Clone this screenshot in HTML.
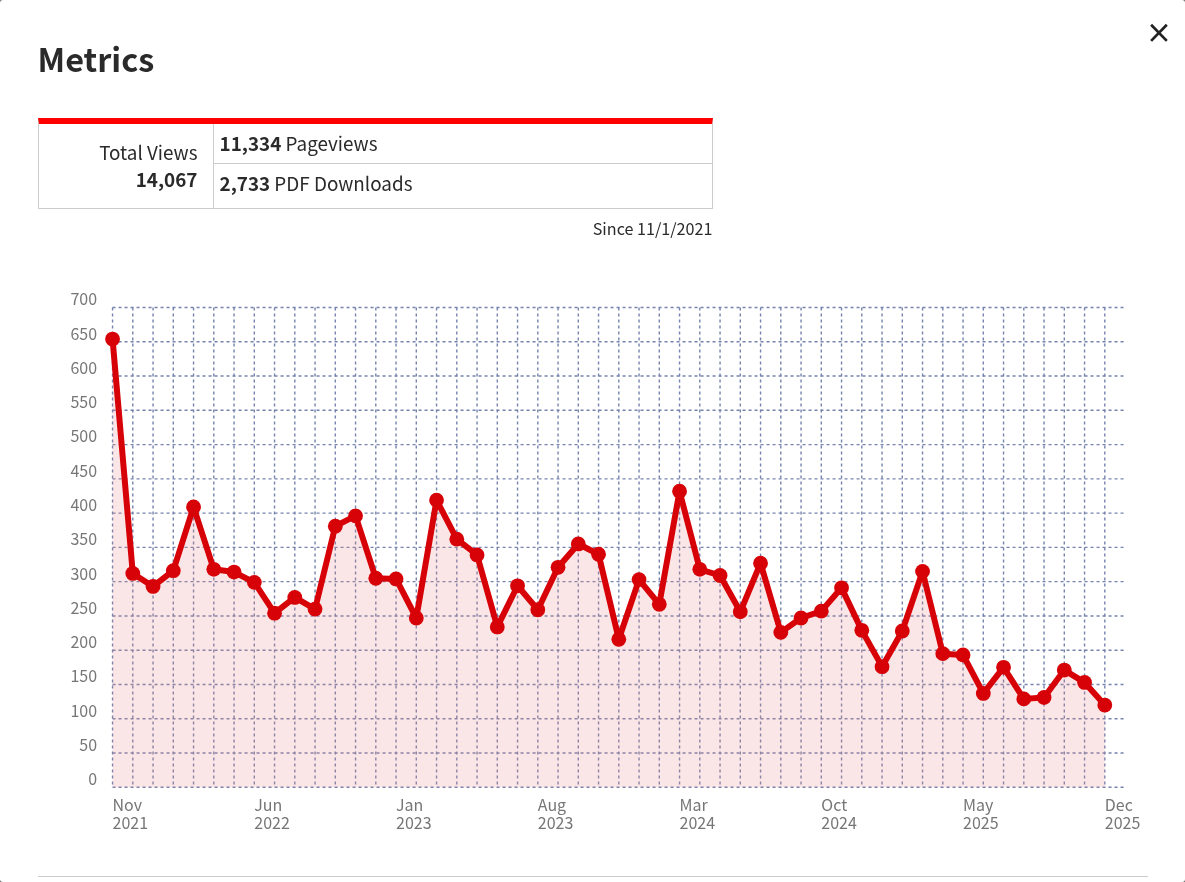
<!DOCTYPE html>
<html lang="en">
<head>
<meta charset="utf-8">
<title>Metrics</title>
<style>
html{background:#707070;}
html,body{margin:0;padding:0;}
body{width:1185px;height:882px;overflow:hidden;position:relative;font-family:"Noto Sans CJK SC","Noto Sans CJK JP","Liberation Sans",sans-serif;font-size:16px;color:#2a2a2a;}
.modal{position:absolute;left:0;top:0;width:1185px;height:882px;background:#fff;border-radius:3px;overflow:hidden;}
h1{position:absolute;left:37.5px;top:35px;margin:0;font-size:32.4px;line-height:46px;font-weight:bold;color:#2a2a2a;}
.close{position:absolute;left:1145px;top:19px;width:28px;height:28px;}
.tbl{position:absolute;left:38px;top:118px;width:673px;height:84px;border:1px solid #ccc;border-top:6px solid #f00;box-sizing:content-box;}
.tbl .l{position:absolute;left:0;top:0;width:174px;height:84px;border-right:1px solid #ccc;}
.tbl .l div{position:absolute;right:15.5px;white-space:nowrap;font-size:18.88px;line-height:27px;}
.tbl .r1,.tbl .r2{position:absolute;left:175px;width:498px;font-size:18.88px;white-space:nowrap;}
.tbl .r1{top:0;height:39px;border-bottom:1px solid #ccc;}
.tbl .r2{top:40px;height:44px;}
.tbl .r1 span,.tbl .r2 span{position:absolute;left:5.5px;line-height:27px;}
.since{position:absolute;right:472.5px;top:216px;font-size:16.16px;line-height:24px;white-space:nowrap;}
.chart{position:absolute;left:0;top:0;}
.chart text{font-family:"Noto Sans CJK SC","Noto Sans CJK JP","Liberation Sans",sans-serif;font-size:16px;fill:#767676;}
.hr{position:absolute;left:38px;top:876px;width:1110px;height:1px;background:#ccc;}
</style>
</head>
<body>
<div class="modal">
<h1>Metrics</h1>
<svg class="close" viewBox="0 0 28 28"><path d="M6.1 5.75 L21.8 21.85 M21.8 5.75 L6.1 21.85" stroke="#222" stroke-width="2.7" fill="none"/></svg>
<div class="tbl">
<div class="l"><div style="top:13.7px">Total Views</div><div style="top:40.7px"><b>14,067</b></div></div>
<div class="r1"><span style="top:5px"><b>11,334</b> Pageviews</span></div>
<div class="r2"><span style="top:5px"><b>2,733</b> PDF Downloads</span></div>
</div>
<div class="since">Since 11/1/2021</div>
<svg class="chart" width="1185" height="882" viewBox="0 0 1185 882">
<g stroke="#7684ad" stroke-width="1.4" stroke-dasharray="3 3" fill="none">
<line x1="112.55" y1="307.50" x2="112.55" y2="787.30"/>
<line x1="132.80" y1="307.50" x2="132.80" y2="787.30"/>
<line x1="153.05" y1="307.50" x2="153.05" y2="787.30"/>
<line x1="173.30" y1="307.50" x2="173.30" y2="787.30"/>
<line x1="193.55" y1="307.50" x2="193.55" y2="787.30"/>
<line x1="213.80" y1="307.50" x2="213.80" y2="787.30"/>
<line x1="234.05" y1="307.50" x2="234.05" y2="787.30"/>
<line x1="254.30" y1="307.50" x2="254.30" y2="787.30"/>
<line x1="274.55" y1="307.50" x2="274.55" y2="787.30"/>
<line x1="294.80" y1="307.50" x2="294.80" y2="787.30"/>
<line x1="315.05" y1="307.50" x2="315.05" y2="787.30"/>
<line x1="335.30" y1="307.50" x2="335.30" y2="787.30"/>
<line x1="355.55" y1="307.50" x2="355.55" y2="787.30"/>
<line x1="375.80" y1="307.50" x2="375.80" y2="787.30"/>
<line x1="396.05" y1="307.50" x2="396.05" y2="787.30"/>
<line x1="416.30" y1="307.50" x2="416.30" y2="787.30"/>
<line x1="436.55" y1="307.50" x2="436.55" y2="787.30"/>
<line x1="456.80" y1="307.50" x2="456.80" y2="787.30"/>
<line x1="477.05" y1="307.50" x2="477.05" y2="787.30"/>
<line x1="497.30" y1="307.50" x2="497.30" y2="787.30"/>
<line x1="517.55" y1="307.50" x2="517.55" y2="787.30"/>
<line x1="537.80" y1="307.50" x2="537.80" y2="787.30"/>
<line x1="558.05" y1="307.50" x2="558.05" y2="787.30"/>
<line x1="578.30" y1="307.50" x2="578.30" y2="787.30"/>
<line x1="598.55" y1="307.50" x2="598.55" y2="787.30"/>
<line x1="618.80" y1="307.50" x2="618.80" y2="787.30"/>
<line x1="639.05" y1="307.50" x2="639.05" y2="787.30"/>
<line x1="659.30" y1="307.50" x2="659.30" y2="787.30"/>
<line x1="679.55" y1="307.50" x2="679.55" y2="787.30"/>
<line x1="699.80" y1="307.50" x2="699.80" y2="787.30"/>
<line x1="720.05" y1="307.50" x2="720.05" y2="787.30"/>
<line x1="740.30" y1="307.50" x2="740.30" y2="787.30"/>
<line x1="760.55" y1="307.50" x2="760.55" y2="787.30"/>
<line x1="780.80" y1="307.50" x2="780.80" y2="787.30"/>
<line x1="801.05" y1="307.50" x2="801.05" y2="787.30"/>
<line x1="821.30" y1="307.50" x2="821.30" y2="787.30"/>
<line x1="841.55" y1="307.50" x2="841.55" y2="787.30"/>
<line x1="861.80" y1="307.50" x2="861.80" y2="787.30"/>
<line x1="882.05" y1="307.50" x2="882.05" y2="787.30"/>
<line x1="902.30" y1="307.50" x2="902.30" y2="787.30"/>
<line x1="922.55" y1="307.50" x2="922.55" y2="787.30"/>
<line x1="942.80" y1="307.50" x2="942.80" y2="787.30"/>
<line x1="963.05" y1="307.50" x2="963.05" y2="787.30"/>
<line x1="983.30" y1="307.50" x2="983.30" y2="787.30"/>
<line x1="1003.55" y1="307.50" x2="1003.55" y2="787.30"/>
<line x1="1023.80" y1="307.50" x2="1023.80" y2="787.30"/>
<line x1="1044.05" y1="307.50" x2="1044.05" y2="787.30"/>
<line x1="1064.30" y1="307.50" x2="1064.30" y2="787.30"/>
<line x1="1084.55" y1="307.50" x2="1084.55" y2="787.30"/>
<line x1="1104.80" y1="307.50" x2="1104.80" y2="787.30"/>
<line x1="112.55" y1="787.30" x2="1125.05" y2="787.30"/>
<line x1="112.55" y1="753.03" x2="1125.05" y2="753.03"/>
<line x1="112.55" y1="718.76" x2="1125.05" y2="718.76"/>
<line x1="112.55" y1="684.49" x2="1125.05" y2="684.49"/>
<line x1="112.55" y1="650.21" x2="1125.05" y2="650.21"/>
<line x1="112.55" y1="615.94" x2="1125.05" y2="615.94"/>
<line x1="112.55" y1="581.67" x2="1125.05" y2="581.67"/>
<line x1="112.55" y1="547.40" x2="1125.05" y2="547.40"/>
<line x1="112.55" y1="513.13" x2="1125.05" y2="513.13"/>
<line x1="112.55" y1="478.86" x2="1125.05" y2="478.86"/>
<line x1="112.55" y1="444.59" x2="1125.05" y2="444.59"/>
<line x1="112.55" y1="410.31" x2="1125.05" y2="410.31"/>
<line x1="112.55" y1="376.04" x2="1125.05" y2="376.04"/>
<line x1="112.55" y1="341.77" x2="1125.05" y2="341.77"/>
<line x1="112.55" y1="307.50" x2="1125.05" y2="307.50"/>
</g>
<polygon fill="#eb8287" fill-opacity="0.2" points="112.55,787.30 112.55,339.03 132.80,573.45 153.05,586.47 173.30,570.70 193.55,506.96 213.80,569.33 234.05,572.08 254.30,582.36 274.55,613.20 294.80,597.44 315.05,609.09 335.30,526.15 355.55,515.87 375.80,578.24 396.05,578.93 416.30,618.00 436.55,500.11 456.80,539.17 477.05,554.94 497.30,626.91 517.55,585.78 537.80,609.77 558.05,567.28 578.30,543.97 598.55,554.25 618.80,639.25 639.05,579.62 659.30,604.29 679.55,491.19 699.80,569.33 720.05,575.50 740.30,611.83 760.55,563.16 780.80,632.39 801.05,618.00 821.30,611.14 841.55,587.84 861.80,630.34 882.05,666.66 902.30,631.02 922.55,571.39 942.80,653.64 963.05,655.01 983.30,693.40 1003.55,667.35 1023.80,698.88 1044.05,697.51 1064.30,670.09 1084.55,682.43 1104.80,705.05 1104.80,787.30"/>
<g class="ylab" text-anchor="end">
<text x="97.1" y="785.00">0</text>
<text x="97.1" y="751.00">50</text>
<text x="97.1" y="717.00">100</text>
<text x="97.1" y="682.00">150</text>
<text x="97.1" y="648.00">200</text>
<text x="97.1" y="614.00">250</text>
<text x="97.1" y="580.00">300</text>
<text x="97.1" y="545.00">350</text>
<text x="97.1" y="511.00">400</text>
<text x="97.1" y="477.00">450</text>
<text x="97.1" y="442.00">500</text>
<text x="97.1" y="408.00">550</text>
<text x="97.1" y="374.00">600</text>
<text x="97.1" y="340.00">650</text>
<text x="97.1" y="305.00">700</text>
</g>
<g class="xlab">
<text x="112.55" y="811">Nov</text><text x="112.55" y="829">2021</text>
<text x="254.30" y="811">Jun</text><text x="254.30" y="829">2022</text>
<text x="396.05" y="811">Jan</text><text x="396.05" y="829">2023</text>
<text x="537.80" y="811">Aug</text><text x="537.80" y="829">2023</text>
<text x="679.55" y="811">Mar</text><text x="679.55" y="829">2024</text>
<text x="821.30" y="811">Oct</text><text x="821.30" y="829">2024</text>
<text x="963.05" y="811">May</text><text x="963.05" y="829">2025</text>
<text x="1104.80" y="811">Dec</text><text x="1104.80" y="829">2025</text>
</g>
<polyline fill="none" stroke="#d70207" stroke-width="6" stroke-linejoin="round" stroke-linecap="round" points="112.55,339.03 132.80,573.45 153.05,586.47 173.30,570.70 193.55,506.96 213.80,569.33 234.05,572.08 254.30,582.36 274.55,613.20 294.80,597.44 315.05,609.09 335.30,526.15 355.55,515.87 375.80,578.24 396.05,578.93 416.30,618.00 436.55,500.11 456.80,539.17 477.05,554.94 497.30,626.91 517.55,585.78 537.80,609.77 558.05,567.28 578.30,543.97 598.55,554.25 618.80,639.25 639.05,579.62 659.30,604.29 679.55,491.19 699.80,569.33 720.05,575.50 740.30,611.83 760.55,563.16 780.80,632.39 801.05,618.00 821.30,611.14 841.55,587.84 861.80,630.34 882.05,666.66 902.30,631.02 922.55,571.39 942.80,653.64 963.05,655.01 983.30,693.40 1003.55,667.35 1023.80,698.88 1044.05,697.51 1064.30,670.09 1084.55,682.43 1104.80,705.05"/>
<g fill="#d70207">
<circle cx="112.55" cy="339.03" r="7.4"/>
<circle cx="132.80" cy="573.45" r="7.4"/>
<circle cx="153.05" cy="586.47" r="7.4"/>
<circle cx="173.30" cy="570.70" r="7.4"/>
<circle cx="193.55" cy="506.96" r="7.4"/>
<circle cx="213.80" cy="569.33" r="7.4"/>
<circle cx="234.05" cy="572.08" r="7.4"/>
<circle cx="254.30" cy="582.36" r="7.4"/>
<circle cx="274.55" cy="613.20" r="7.4"/>
<circle cx="294.80" cy="597.44" r="7.4"/>
<circle cx="315.05" cy="609.09" r="7.4"/>
<circle cx="335.30" cy="526.15" r="7.4"/>
<circle cx="355.55" cy="515.87" r="7.4"/>
<circle cx="375.80" cy="578.24" r="7.4"/>
<circle cx="396.05" cy="578.93" r="7.4"/>
<circle cx="416.30" cy="618.00" r="7.4"/>
<circle cx="436.55" cy="500.11" r="7.4"/>
<circle cx="456.80" cy="539.17" r="7.4"/>
<circle cx="477.05" cy="554.94" r="7.4"/>
<circle cx="497.30" cy="626.91" r="7.4"/>
<circle cx="517.55" cy="585.78" r="7.4"/>
<circle cx="537.80" cy="609.77" r="7.4"/>
<circle cx="558.05" cy="567.28" r="7.4"/>
<circle cx="578.30" cy="543.97" r="7.4"/>
<circle cx="598.55" cy="554.25" r="7.4"/>
<circle cx="618.80" cy="639.25" r="7.4"/>
<circle cx="639.05" cy="579.62" r="7.4"/>
<circle cx="659.30" cy="604.29" r="7.4"/>
<circle cx="679.55" cy="491.19" r="7.4"/>
<circle cx="699.80" cy="569.33" r="7.4"/>
<circle cx="720.05" cy="575.50" r="7.4"/>
<circle cx="740.30" cy="611.83" r="7.4"/>
<circle cx="760.55" cy="563.16" r="7.4"/>
<circle cx="780.80" cy="632.39" r="7.4"/>
<circle cx="801.05" cy="618.00" r="7.4"/>
<circle cx="821.30" cy="611.14" r="7.4"/>
<circle cx="841.55" cy="587.84" r="7.4"/>
<circle cx="861.80" cy="630.34" r="7.4"/>
<circle cx="882.05" cy="666.66" r="7.4"/>
<circle cx="902.30" cy="631.02" r="7.4"/>
<circle cx="922.55" cy="571.39" r="7.4"/>
<circle cx="942.80" cy="653.64" r="7.4"/>
<circle cx="963.05" cy="655.01" r="7.4"/>
<circle cx="983.30" cy="693.40" r="7.4"/>
<circle cx="1003.55" cy="667.35" r="7.4"/>
<circle cx="1023.80" cy="698.88" r="7.4"/>
<circle cx="1044.05" cy="697.51" r="7.4"/>
<circle cx="1064.30" cy="670.09" r="7.4"/>
<circle cx="1084.55" cy="682.43" r="7.4"/>
<circle cx="1104.80" cy="705.05" r="7.4"/>
</g>
</svg>
<div class="hr"></div>
</div>
</body>
</html>
